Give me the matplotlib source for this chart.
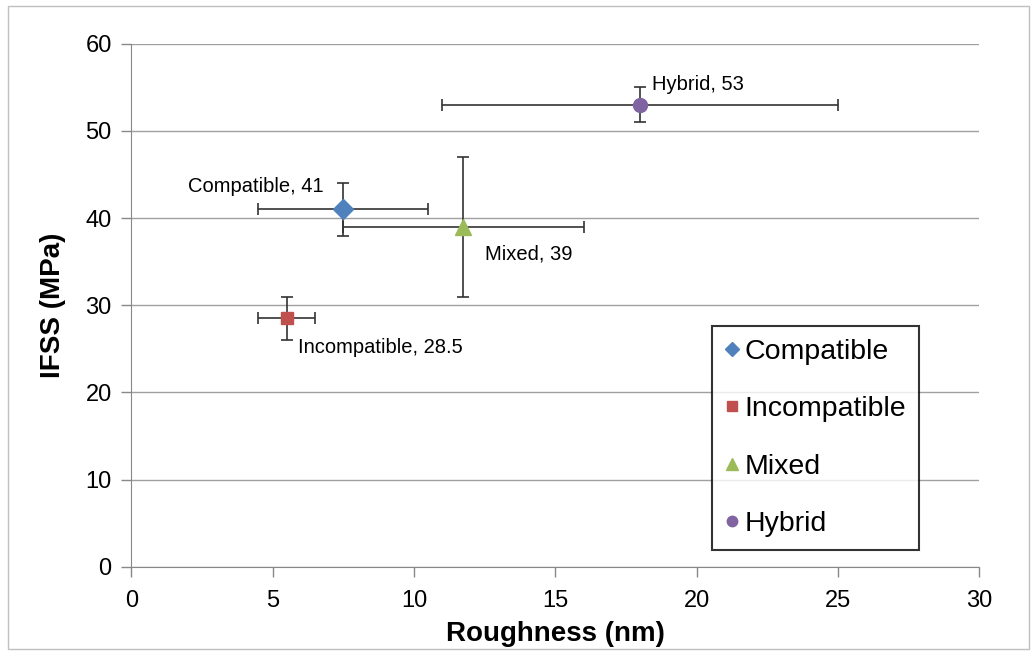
import matplotlib.pyplot as plt
from matplotlib.patches import Rectangle

plt.rcParams['font.family'] = ['Liberation Sans', 'DejaVu Sans']

# data
names = ["Compatible", "Incompatible", "Mixed", "Hybrid"]
rough = [7.5, 5.5, 11.75, 18.0]
rough_err = [3.0, 1.0, 4.25, 7.0]
ifss = [41, 28.5, 39, 53]
ifss_err = [3.0, 2.5, 8.0, 2.0]
markers = ["D", "s", "^", "o"]
colors = ["#4F81BD", "#C0504D", "#9BBB59", "#8064A2"]
labels = ["Compatible, 41", "Incompatible, 28.5", "Mixed, 39", "Hybrid, 53"]
xticks = [0, 5, 10, 15, 20, 25, 30]
yticks = [0, 10, 20, 30, 40, 50, 60]

fig = plt.figure(figsize=(10.33, 6.53), dpi=100)
ax = fig.add_axes([0.127, 0.132, 0.821, 0.801])

# light chart border like excel
fig.patches.append(Rectangle((0.008, 0.006), 0.988, 0.985, transform=fig.transFigure,
                             fill=False, edgecolor='#bfbfbf', linewidth=1))

msizes = [10, 9, 12, 10]
for i in range(len(names)):
    ax.errorbar(rough[i], ifss[i], xerr=rough_err[i], yerr=ifss_err[i],
                fmt='none', ecolor='#333333', elinewidth=1.2, capsize=4, capthick=1.2, zorder=3)
    ax.plot(rough[i], ifss[i], marker=markers[i], color=colors[i], linestyle='none',
            markersize=msizes[i], label=names[i], zorder=4)

# point labels
offs = [(-0.7, 2.6, 'right'), (0.4, -3.4, 'left'), (0.75, -3.1, 'left'), (0.42, 2.3, 'left')]
for i in range(len(names)):
    dx, dy, ha = offs[i]
    ax.text(rough[i] + dx, ifss[i] + dy, labels[i], fontsize=14.5, ha=ha, va='center')

ax.set_xlim(0, 30)
ax.set_ylim(0, 60)
ax.set_xticks(xticks)
ax.set_yticks(yticks)
ax.tick_params(labelsize=17, color='#888888', length=7, width=1)
ax.tick_params(axis='y', pad=7)
ax.tick_params(axis='x', pad=10)
ax.yaxis.grid(True, color='#a0a0a0', linewidth=1)
ax.set_axisbelow(True)
for s in ['top', 'right']:
    ax.spines[s].set_visible(False)
for s in ['left', 'bottom']:
    ax.spines[s].set_color('#888888')

ax.set_xlabel("Roughness (nm)", fontsize=20, fontweight='bold', labelpad=6)
ax.set_ylabel("IFSS (MPa)", fontsize=20, fontweight='bold', labelpad=14)

leg = ax.legend(loc='lower right', bbox_to_anchor=(0.929, 0.0325), fontsize=20.5, frameon=True,
                fancybox=False, edgecolor='black', handlelength=0.5, handletextpad=0.2,
                labelspacing=1.1, borderpad=0.45, borderaxespad=0, markerscale=0.75)
leg.get_frame().set_linewidth(1.5)

fig.savefig("out.png", dpi=100)
